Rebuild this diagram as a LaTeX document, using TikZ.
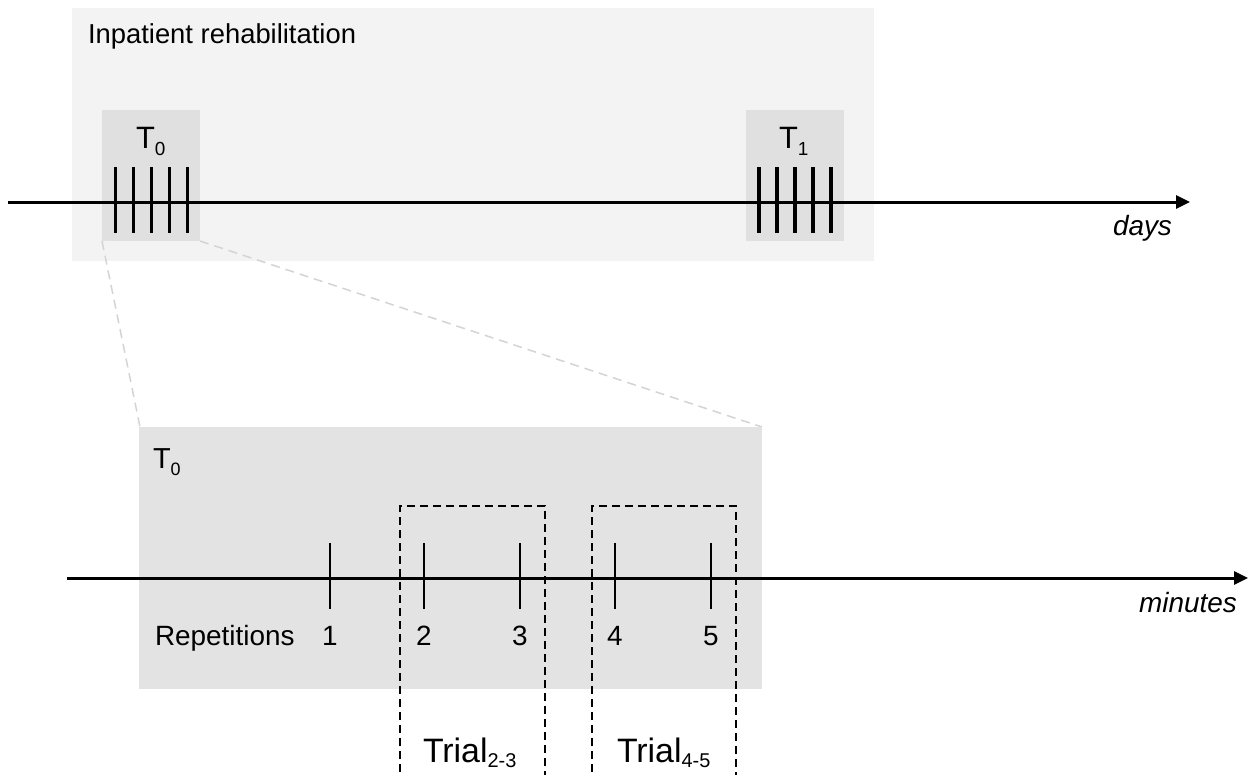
\documentclass[tikz,border=0pt]{standalone}
\usepackage{fontspec}
\setmainfont{Liberation Sans}
\usetikzlibrary{arrows.meta}
\definecolor{outerbg}{HTML}{F3F3F3}
\definecolor{tbox}{HTML}{E0E0E0}
\definecolor{zoombox}{HTML}{E3E3E3}
\definecolor{zoomline}{HTML}{D4D4D4}
\newcommand\fs[1]{\fontsize{#1}{#1}\selectfont}
\newcommand\subtx[3]{\raisebox{-#2bp}{\fs{#1}#3}}
\tikzset{
  axis/.style={line width=3bp,-{Triangle[length=14bp,width=13bp]}},
  bigtick/.style={line width=3.2bp},
  smalltick/.style={line width=2.6bp},
  trialbox/.style={draw=black,line width=1.6bp,dash pattern=on 8bp off 5bp},
  zoomlink/.style={draw=zoomline,line width=1.5bp,dash pattern=on 9bp off 6bp},
  lbl/.style={inner sep=0pt,outer sep=0pt,anchor=base west},
}
\begin{document}
\begin{tikzpicture}[x=1bp,y=-1bp]
\useasboundingbox (0,0) rectangle (1248,775);
\fill[white] (0,0) rectangle (1248,775);
% top panel
\fill[outerbg] (72,8) rectangle (874,261);
\node[lbl] (inpat) at (88,44) {\fs{27.5}Inpatient rehabilitation};
\fill[tbox] (102,110) rectangle (200,241);
\fill[tbox] (746,110) rectangle (844,241);
\node[lbl] (t0top) at (136,148) {\fs{31}T\subtx{19}{7}{0}};
\node[lbl] (t1top) at (779,148) {\fs{31}T\subtx{19}{7}{1}};
\coordinate (a1s) at (8,202);
\coordinate (a1e) at (1190,202);
\draw[axis] (a1s) -- (a1e);
\foreach \x in {115.5,133.5,151.5,169.5,187.5} {\draw[bigtick] (\x,167) -- (\x,233);}
\foreach \x in {759,777,795,813,831} {\draw[bigtick] (\x,167) -- (\x,233);}
\node[lbl] (days) at (1113,235) {\fs{28}\itshape days};
% zoom links
\coordinate (z1) at (102,241);
\coordinate (z2) at (200,241);
\coordinate (z3) at (140,427);
\coordinate (z4) at (762,427);
\draw[zoomlink] (z1) -- (z3);
\draw[zoomlink] (z2) -- (z4);
% bottom panel
\fill[zoombox] (139,427) rectangle (762,689);
\node[lbl] (t0bot) at (153,468) {\fs{29}T\subtx{18}{7}{0}};
\coordinate (a2s) at (67,578);
\coordinate (a2e) at (1248,578);
\draw[axis] (a2s) -- (a2e);
\foreach \x/\n in {330/1,424/2,520/3,615/4,711/5} {
  \draw[smalltick] (\x,543) -- (\x,609);
  \node[inner sep=0pt,anchor=base] (n\n) at (\x,645) {\fs{28}\n};
}
\node[lbl] (rep) at (155,645) {\fs{28}Repetitions};
\node[inner sep=0pt,anchor=base east] (min) at (1237,612) {\fs{28}\itshape minutes};
\draw[trialbox] (400,785) -- (400,506) -- (545,506) -- (545,785);
\draw[trialbox] (592,785) -- (592,506) -- (736,506) -- (736,785);
\node[lbl] (tr23) at (423,762) {\fs{34}Trial\subtx{20}{5}{2-3}};
\node[lbl] (tr45) at (617,762) {\fs{34}Trial\subtx{20}{5}{4-5}};
\end{tikzpicture}
\end{document}
